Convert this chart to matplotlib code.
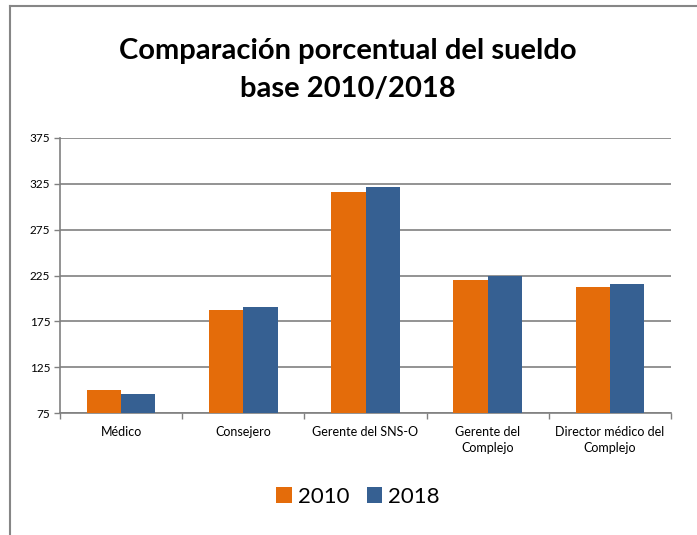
import matplotlib
matplotlib.use("Agg")
import matplotlib.pyplot as plt
import numpy as np
from matplotlib.lines import Line2D

categories = ["Médico", "Consejero", "Gerente del SNS-O", "Gerente del\nComplejo", "Director médico del\nComplejo"]
v2010 = [100, 187, 316, 220, 212]
v2018 = [96, 191, 322, 225, 216]
series_names = ["2010", "2018"]
yticks = [75, 125, 175, 225, 275, 325, 375]

plt.rcParams['font.family'] = ['Lato', 'DejaVu Sans']

fig = plt.figure(figsize=(6.97, 5.35), dpi=100)
ax = fig.add_axes([60/697, 1-413/535, (671-60)/697, (413-138)/535])

x = np.arange(len(categories))
w = 0.28
c1, c2 = "#E46C0A", "#366092"
ax.bar(x - w/2, v2010, width=w, color=c1, label=series_names[0], zorder=3)
ax.bar(x + w/2, v2018, width=w, color=c2, label=series_names[1], zorder=3)

ax.set_ylim(75, 375)
ax.set_xlim(-0.5, len(categories) - 0.5)
ax.set_yticks(yticks)
ax.set_yticklabels([str(t) for t in yticks], fontsize=8.5)
ax.yaxis.grid(True, color="#808080", linewidth=1.2, zorder=0)
ax.set_axisbelow(True)

ax.set_xticks(np.arange(len(categories) + 1) - 0.5)
ax.set_xticklabels([])
ax.set_xticks(x, minor=True)
ax.set_xticklabels(categories, minor=True, fontsize=9, linespacing=1.45)
ax.tick_params(axis='x', which='minor', length=0, pad=9)
ax.tick_params(axis='x', which='major', length=4, color="#808080", width=1)
ax.tick_params(axis='y', length=4, color="#808080", width=1, pad=3)

for s in ["top", "right"]:
    ax.spines[s].set_visible(False)
for s in ["left", "bottom"]:
    ax.spines[s].set_color("#808080")
    ax.spines[s].set_linewidth(1.2)

fig.text(348/697, 1-70/535, "Comparación porcentual del sueldo\nbase 2010/2018",
         ha="center", va="center", fontsize=21, fontweight="bold", linespacing=1.55)

leg = fig.legend(loc="center", bbox_to_anchor=(358/697, 1-497/535), ncol=2, frameon=False,
                 fontsize=16, handlelength=0.7, handleheight=0.7, handletextpad=0.25,
                 columnspacing=0.8)

# outer frame lines (left and top)
fig.add_artist(Line2D([9.5/697, 9.5/697], [0, 1-5.5/535], transform=fig.transFigure, color="#868686", lw=1.5))
fig.add_artist(Line2D([9.5/697, 1], [1-5.5/535, 1-5.5/535], transform=fig.transFigure, color="#868686", lw=1.5))

fig.savefig("out.png", dpi=100)
